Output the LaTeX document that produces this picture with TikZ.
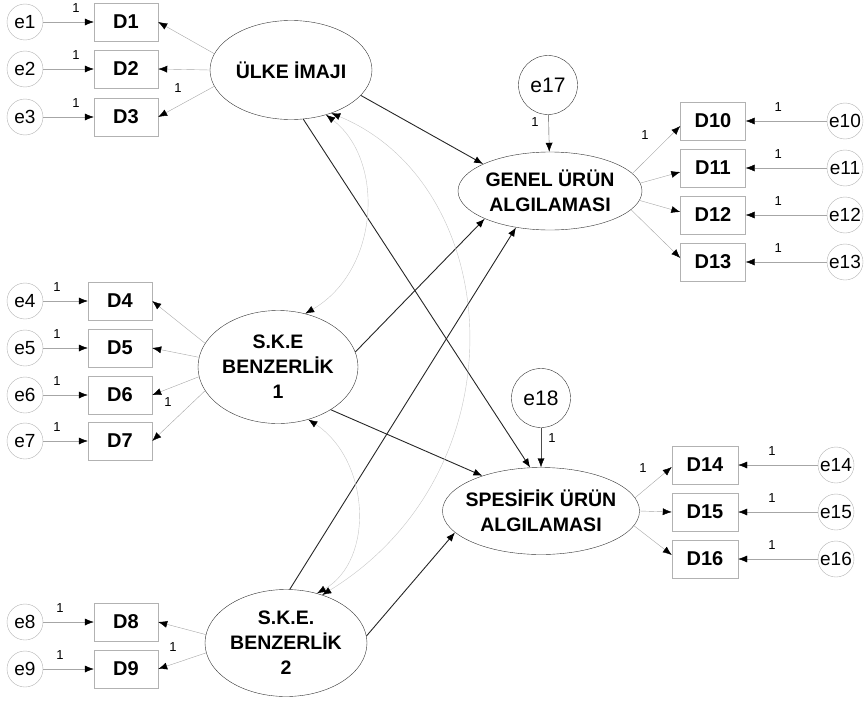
\documentclass[tikz,border=0pt]{standalone}
\usepackage{fontspec}
\setmainfont{Liberation Sans}
\usetikzlibrary{arrows.meta,shapes.geometric}

\begin{document}
\begin{tikzpicture}[x=1pt,y=-1pt,>={Latex[color=black,length=9pt,width=7pt]},
	obs/.style={draw=gray!60, minimum width=64pt, minimum height=38pt, inner sep=0pt, font=\fontsize{20}{22}\selectfont\bfseries},
	err/.style={circle, draw=gray!60, minimum size=36pt, inner sep=0pt, font=\fontsize{19}{20}\selectfont},
	res/.style={circle, draw=black!80, minimum size=59pt, inner sep=0pt, font=\fontsize{21}{22}\selectfont},
	lat/.style={ellipse, draw=black!80, inner sep=0pt, align=center, font=\fontsize{19.5}{25}\selectfont\bfseries},
	one/.style={font=\fontsize{13}{13}\selectfont, inner sep=0pt},
	load/.style={->, draw=gray!70},
	reg/.style={->, draw=black!85, line width=0.9pt},
	cov/.style={<->, draw=gray!45}]
	\useasboundingbox (0,0) rectangle (867,701);
	
	% Draw the latent variables
	\node[lat, minimum width=162pt, minimum height=99pt] (ulke) at (291,70) {ÜLKE İMAJI};
	\node[lat, minimum width=160pt, minimum height=113pt] (ske1) at (278,367) {S.K.E\\BENZERLİK\\1};
	\node[lat, minimum width=162pt, minimum height=107pt] (ske2) at (286,643) {S.K.E.\\BENZERLİK\\2};
	\node[lat, minimum width=184pt, minimum height=78pt] (genel) at (550,191) {GENEL ÜRÜN\\ALGILAMASI};
	\node[lat, minimum width=197pt, minimum height=87pt, inner xsep=-6pt] (spes) at (541,511) {SPESİFİK ÜRÜN\\ALGILAMASI};
	
	% Draw the residuals
	\node[res] (e17) at (548,85) {e17};
	\node[res] (e18) at (541,398) {e18};
	
	% Draw the left indicators
	\node[obs] (d1) at (126,22) {D1};
	\node[obs] (d2) at (126,69) {D2};
	\node[obs] (d3) at (126,117) {D3};
	\node[obs] (d4) at (120,301) {D4};
	\node[obs] (d5) at (120,348) {D5};
	\node[obs] (d6) at (120,395) {D6};
	\node[obs] (d7) at (120,441) {D7};
	\node[obs] (d8) at (126,622) {D8};
	\node[obs] (d9) at (126,669) {D9};
	\node[err] (e1) at (25,22) {e1};
	\node[err] (e2) at (25,69) {e2};
	\node[err] (e3) at (25,117) {e3};
	\node[err] (e4) at (25,301) {e4};
	\node[err] (e5) at (25,348) {e5};
	\node[err] (e6) at (25,395) {e6};
	\node[err] (e7) at (25,441) {e7};
	\node[err] (e8) at (25,622) {e8};
	\node[err] (e9) at (25,669) {e9};
	
	% Draw the right indicators
	\node[obs, minimum width=65pt] (d10) at (713,121) {D10};
	\node[obs, minimum width=65pt] (d11) at (713,168) {D11};
	\node[obs, minimum width=65pt] (d12) at (713,215) {D12};
	\node[obs, minimum width=65pt] (d13) at (713,262) {D13};
	\node[obs, minimum width=66pt] (d14) at (705,465) {D14};
	\node[obs, minimum width=66pt] (d15) at (705,512) {D15};
	\node[obs, minimum width=66pt] (d16) at (705,559) {D16};
	\node[err] (e10) at (845,121) {e10};
	\node[err] (e11) at (845,168) {e11};
	\node[err] (e12) at (845,215) {e12};
	\node[err] (e13) at (845,262) {e13};
	\node[err] (e14) at (836,465) {e14};
	\node[err] (e15) at (836,512) {e15};
	\node[err] (e16) at (836,559) {e16};
	
	% Draw the error arrows
	\draw[load] (e1) -- node[one, above=9pt, pos=0.65] (k1) {1} (d1);
	\draw[load] (e2) -- node[one, above=9pt, pos=0.65] (k2) {1} (d2);
	\draw[load] (e3) -- node[one, above=9pt, pos=0.65] (k3) {1} (d3);
	\draw[load] (e4) -- node[one, above=9pt, pos=0.31] (k4) {1} (d4);
	\draw[load] (e5) -- node[one, above=9pt, pos=0.31] (k5) {1} (d5);
	\draw[load] (e6) -- node[one, above=9pt, pos=0.31] (k6) {1} (d6);
	\draw[load] (e7) -- node[one, above=9pt, pos=0.31] (k7) {1} (d7);
	\draw[load] (e8) -- node[one, above=9pt, pos=0.33] (k8) {1} (d8);
	\draw[load] (e9) -- node[one, above=9pt, pos=0.33] (k9) {1} (d9);
	\draw[load] (e10) -- node[one, above=9pt, pos=0.6] (k10) {1} (d10);
	\draw[load] (e11) -- node[one, above=9pt, pos=0.6] (k11) {1} (d11);
	\draw[load] (e12) -- node[one, above=9pt, pos=0.6] (k12) {1} (d12);
	\draw[load] (e13) -- node[one, above=9pt, pos=0.6] (k13) {1} (d13);
	\draw[load] (e14) -- node[one, above=9pt, pos=0.575] (k14) {1} (d14);
	\draw[load] (e15) -- node[one, above=9pt, pos=0.575] (k15) {1} (d15);
	\draw[load] (e16) -- node[one, above=9pt, pos=0.575] (k16) {1} (d16);
	\draw[->, draw=black!70] (e17) -- (genel);
	\draw[->, draw=black!70] (e18) -- (spes);
	\node[one] (k17) at (535,122) {1};
	\node[one] (k18) at (552,438) {1};
	
	% Draw the loadings
	\draw[load] (ulke.168) -- (d1.east);
	\draw[load] (ulke.180) -- (d2.east);
	\draw[load] (ulke.192) -- (d3.east);
	\draw[load] (ske1.162) -- (d4.east);
	\draw[load] (ske1.173) -- (d5.east);
	\draw[load] (ske1.187) -- (d6.east);
	\draw[load] (ske1.198) -- (d7.east);
	\draw[load] (ske2.174) -- (d8.east);
	\draw[load] (ske2.187) -- (d9.east);
	\draw[load] (genel.12) -- ([yshift=-5pt]d10.west);
	\draw[load] (genel.5) -- ([yshift=-4pt]d11.west);
	\draw[load] (genel.354) -- ([yshift=3pt]d12.west);
	\draw[load] (genel.347) -- ([yshift=4pt]d13.west);
	\draw[load] (spes.8) -- ([yshift=-2pt]d14.west);
	\draw[load] (spes.0) -- (d15.west);
	\draw[load] (spes.351) -- ([yshift=4pt]d16.west);
	\node[one] (u3) at (178,88) {1};
	\node[one] (u6) at (168,402) {1};
	\node[one] (u9) at (173,647) {1};
	\node[one] (u10) at (645,135) {1};
	\node[one] (u14) at (643,468) {1};
	
	% Draw the structural paths
	\draw[reg] (ulke.-20) -- (genel.158);
	\draw[reg] (ulke.-76) -- (spes.104);
	\draw[reg] (ske1.11) -- (genel.203);
	\draw[reg] (ske1.-39) -- (spes.149);
	\draw[reg] (ske2.86) -- (genel.227);
	\draw[reg] (ske2.5) -- (spes.194);
	
	% Draw the covariances
	\draw[cov] (ulke.-52) .. controls (385,160) and (380,270) .. (ske1.63);
	\draw[cov] (ulke.-47) .. controls (505,185) and (525,470) .. (ske2.53);
	\draw[cov] (ske1.-60) .. controls (370,460) and (375,560) .. (ske2.58);
	
\end{tikzpicture}
\end{document}
